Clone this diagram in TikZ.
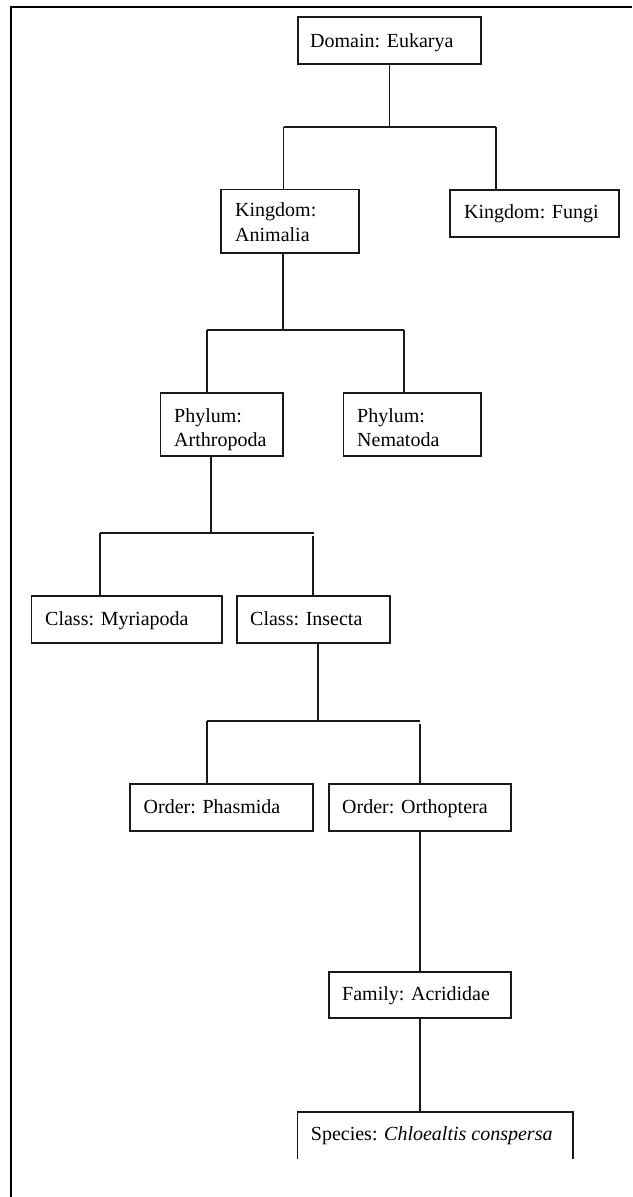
\documentclass[tikz,border=0pt]{standalone}
\usepackage{fontspec}
\setmainfont{Liberation Serif}
\begin{document}
\begin{tikzpicture}[x=1pt,y=-1pt,
  box/.style={draw=black!90, line width=1.5pt, rectangle, inner sep=0pt},
  openbox/.style={rectangle, inner sep=0pt},
  conn/.style={draw=black!90, line width=1.35pt},
  lbl/.style={anchor=base west, inner sep=0pt, font=\fontsize{20}{24}\selectfont, text=black},
  frameline/.style={line width=2.2pt, black}]
\useasboundingbox (0,0) rectangle (632,1197);
% outer frame (top and left edges)
\coordinate (fr1) at (10.7,1197);
\coordinate (fr2) at (10.7,6.7);
\coordinate (fr3) at (632,6.7);
\draw[frameline] (fr1) -- (fr2) -- (fr3);

% boxes
\node[box, minimum width=183pt, minimum height=47pt] (dom) at (389.5,40.5) {};
\node[box, minimum width=138pt, minimum height=63.5pt] (anim) at (290,221) {};
\node[box, minimum width=169pt, minimum height=47pt] (fungi) at (534.5,213.5) {};
\node[box, minimum width=122.5pt, minimum height=63pt] (arth) at (221.75,424.5) {};
\node[box, minimum width=137.5pt, minimum height=63pt] (nema) at (412.25,424.5) {};
\node[box, minimum width=190.5pt, minimum height=47pt] (myria) at (126.75,619.5) {};
\node[box, minimum width=153pt, minimum height=47pt] (insecta) at (313.5,619.5) {};
\node[box, minimum width=183pt, minimum height=47pt] (phasm) at (221.5,807.5) {};
\node[box, minimum width=182pt, minimum height=47pt] (ortho) at (420,807.5) {};
\node[box, minimum width=182pt, minimum height=46pt] (fam) at (420,995) {};
\node[openbox, minimum width=275pt, minimum height=47pt] (spec) at (435.1,1135.5) {};
\draw[box] (spec.south west) |- (spec.north east) -- (spec.south east);

% labels
\node[lbl] (tdom) at (310,47) {Domain: Eukarya};
\node[lbl] (tan1) at (235,216) {Kingdom:};
\node[lbl] (tan2) at (235,241) {Animalia};
\node[lbl] (tfun) at (464,218) {Kingdom: Fungi};
\node[lbl] (tar1) at (174,422) {Phylum:};
\node[lbl] (tar2) at (174,446) {Arthropoda};
\node[lbl] (tne1) at (357,422) {Phylum:};
\node[lbl] (tne2) at (357,446) {Nematoda};
\node[lbl] (tmy) at (45,625) {Class: Myriapoda};
\node[lbl] (tin) at (250,625) {Class: Insecta};
\node[lbl] (tph) at (143.5,813) {Order: Phasmida};
\node[lbl] (tor) at (342,813) {Order: Orthoptera};
\node[lbl] (tfa) at (342,1000) {Family: Acrididae};
\node[lbl] (tsp) at (310.7,1140) {Species: \textit{Chloealtis conspersa}};

% junction coordinates
\coordinate (j1) at (389.5,127);
\coordinate (j1l) at (283.5,127);
\coordinate (j1r) at (496,127);
\coordinate (j2) at (283,330);
\coordinate (j2l) at (207,330);
\coordinate (j2r) at (404,330);
\coordinate (j3) at (211,533);
\coordinate (j3l) at (100,533);
\coordinate (j3r) at (314,533);
\coordinate (j3rb) at (313,536);
\coordinate (j4) at (318,721);
\coordinate (j4l) at (207,721);
\coordinate (j4r) at (420,721);
\coordinate (j4rb) at (420,724);

% connectors
\draw[conn] (dom.south) -- (j1);
\draw[conn] (j1l) -- (j1r);
\draw[conn] (j1l) -- (j1l |- anim.north);
\draw[conn] (j1r) -- (j1r |- fungi.north);

\draw[conn] (j2 |- anim.south) -- (j2);
\draw[conn] (j2l) -- (j2r);
\draw[conn] (j2l) -- (j2l |- arth.north);
\draw[conn] (j2r) -- (j2r |- nema.north);

\draw[conn] (j3 |- arth.south) -- (j3);
\draw[conn] (j3l) -- (j3r);
\draw[conn] (j3l) -- (j3l |- myria.north);
\draw[conn] (j3rb) -- (j3rb |- insecta.north);

\draw[conn] (j4 |- insecta.south) -- (j4);
\draw[conn] (j4l) -- (j4r);
\draw[conn] (j4l) -- (j4l |- phasm.north);
\draw[conn] (j4rb) -- (j4rb |- ortho.north);

\draw[conn] (ortho.south) -- (fam.north);
\draw[conn] (fam.south) -- (fam.south |- spec.north);
\end{tikzpicture}
\end{document}
